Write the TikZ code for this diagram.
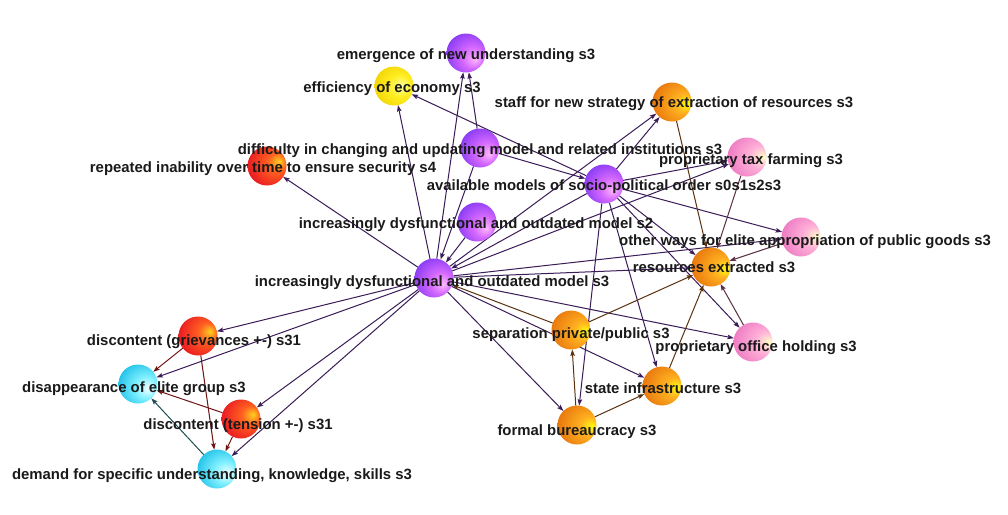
\documentclass[tikz,border=0pt]{standalone}
\usepackage{fontspec}
\setmainfont{Liberation Sans}
\usetikzlibrary{arrows.meta}
\definecolor{labeltxt}{HTML}{1A1A1A}
\definecolor{epurple}{HTML}{3A1C58}
\definecolor{ebrown}{HTML}{5A3210}
\definecolor{ered}{HTML}{6E1414}
\definecolor{emauve}{HTML}{5A2E46}
\definecolor{eteal}{HTML}{1E5050}
% purple
\definecolor{phl}{HTML}{FFB8FF}\definecolor{pmid}{HTML}{D468FF}\definecolor{pbase}{HTML}{8A3CF4}\definecolor{pdark}{HTML}{4E1CC0}
% yellow
\definecolor{yhl}{HTML}{FFFFA0}\definecolor{ymid}{HTML}{FFEE22}\definecolor{ybase}{HTML}{F0D000}\definecolor{ydark}{HTML}{B08C00}
% orange
\definecolor{ohl}{HTML}{FFFF10}\definecolor{omid}{HTML}{FFB020}\definecolor{obase}{HTML}{EA7C10}\definecolor{odark}{HTML}{A05006}
% red
\definecolor{rhl}{HTML}{FFD020}\definecolor{rmid}{HTML}{FF6020}\definecolor{rbase}{HTML}{EC2222}\definecolor{rdark}{HTML}{B80C34}
% pink
\definecolor{khl}{HTML}{FFFFC8}\definecolor{kmid}{HTML}{FFB0D8}\definecolor{kbase}{HTML}{EE7CC4}\definecolor{kdark}{HTML}{B858B0}
% cyan
\definecolor{chl}{HTML}{F4FFFF}\definecolor{cmid}{HTML}{80F0FF}\definecolor{cbase}{HTML}{26C4EA}\definecolor{cdark}{HTML}{1686B0}
\pgfdeclareradialshading{purpleball}{\pgfpoint{12bp}{-8bp}}{color(0bp)=(phl); color(14bp)=(pmid); color(32bp)=(pbase); color(56bp)=(pdark)}
\pgfdeclareradialshading{yellowball}{\pgfpoint{10bp}{0bp}}{color(0bp)=(yhl); color(14bp)=(ymid); color(34bp)=(ybase); color(58bp)=(ydark)}
\pgfdeclareradialshading{orangeball}{\pgfpoint{20bp}{-2bp}}{color(0bp)=(ohl); color(12bp)=(omid); color(32bp)=(obase); color(58bp)=(odark)}
\pgfdeclareradialshading{redball}{\pgfpoint{16bp}{6bp}}{color(0bp)=(rhl); color(12bp)=(rmid); color(30bp)=(rbase); color(58bp)=(rdark)}
\pgfdeclareradialshading{pinkball}{\pgfpoint{22bp}{0bp}}{color(0bp)=(khl); color(14bp)=(kmid); color(34bp)=(kbase); color(58bp)=(kdark)}
\pgfdeclareradialshading{cyanball}{\pgfpoint{14bp}{-6bp}}{color(0bp)=(chl); color(14bp)=(cmid); color(32bp)=(cbase); color(58bp)=(cdark)}
\pgfdeclarelayer{bglayer}
\pgfdeclarelayer{edgelayer}
\pgfsetlayers{bglayer,edgelayer,main}
\begin{document}
\begin{tikzpicture}[x=1pt,y=-1pt,
  ball/.style={circle,minimum size=39pt,inner sep=0pt,outer sep=0pt},
  pb/.style={ball,shading=purpleball},
  yb/.style={ball,shading=yellowball},
  ob/.style={ball,shading=orangeball},
  rb/.style={ball,shading=redball},
  kb/.style={ball,shading=pinkball},
  cb/.style={ball,shading=cyanball},
  lbl/.style={font=\bfseries\fontsize{14.9}{16}\selectfont,text=labeltxt,inner sep=0pt,anchor=mid},
  tip/.style={-{Stealth[length=6.5pt,width=4.6pt,inset=1.2pt]}},
  pe/.style={draw=epurple,line width=1pt,tip},
  be/.style={draw=ebrown,line width=1pt,tip},
  re/.style={draw=ered,line width=1pt,tip},
  me/.style={draw=emauve,line width=1pt,tip},
  te/.style={draw=eteal,line width=1pt,tip}]
\useasboundingbox (0,0) rectangle (1008,514);
\begin{pgfonlayer}{bglayer}
\fill[white] (0,0) rectangle (1008,514);
\end{pgfonlayer}
% balls
\node[pb] (n1) at (466,53) {};
\node[yb] (n2) at (394,86) {};
\node[ob] (n3) at (672,102) {};
\node[pb] (n4) at (480,148) {};
\node[rb] (n5) at (267,166) {};
\node[kb] (n6) at (747,157) {};
\node[pb] (n7) at (604,184) {};
\node[pb] (n8) at (477,222) {};
\node[kb] (n9) at (801,237) {};
\node[ob] (n10) at (711,267) {};
\node[pb] (n11) at (434,278) {};
\node[ob] (n12) at (571,330) {};
\node[kb] (n13) at (753,342) {};
\node[rb] (n14) at (198,336) {};
\node[cb] (n15) at (138,384) {};
\node[ob] (n16) at (662,386) {};
\node[rb] (n17) at (241,419) {};
\node[ob] (n18) at (577,425) {};
\node[cb] (n19) at (217,469) {};
% edges
\begin{pgfonlayer}{edgelayer}
\draw[pe] (n11) -- (n5);
\draw[pe] (n11) -- (n2);
\draw[pe] (n11) -- (n1);
\draw[pe] (n11) -- (n3);
\draw[pe] (n11) -- (n6);
\draw[pe] (n11) -- (n9);
\draw[pe] (n11) -- (n10);
\draw[pe] (n11) -- (n13);
\draw[pe] (n11) -- (n16);
\draw[pe] (n11) -- (n18);
\draw[pe] (n11) -- (n14);
\draw[pe] (n11) -- (n15);
\draw[pe] (n11) -- (n17);
\draw[pe] (n11) -- (n19);
\draw[pe] (n4) -- (n1);
\draw[pe] (n4) -- (n11);
\draw[pe] (n4) -- (n7);
\draw[pe] (n8) -- (n11);
\draw[pe] (n7) -- (n11);
\draw[pe] (n7) -- (n2);
\draw[pe] (n7) -- (n3);
\draw[pe] (n7) -- (n6);
\draw[pe] (n7) -- (n9);
\draw[pe] (n7) -- (n10);
\draw[pe] (n7) -- (n13);
\draw[pe] (n7) -- (n16);
\draw[pe] (n7) -- (n18);
\draw[be] (n12) -- (n11);
\draw[be] (n12) -- (n10);
\draw[be] (n18) -- (n12);
\draw[be] (n18) -- (n16);
\draw[be] (n16) -- (n10);
\draw[be] (n3) -- (n10);
\draw[re] (n14) -- (n15);
\draw[re] (n14) -- (n19);
\draw[re] (n17) -- (n15);
\draw[re] (n17) -- (n19);
\draw[me] (n6) -- (n10);
\draw[me] (n9) -- (n10);
\draw[me] (n13) -- (n10);
\draw[te] (n19) -- (n15);
\end{pgfonlayer}
% labels
\node[lbl] (t1) at (466,56.5) {emergence of new understanding s3};
\node[lbl] (t2) at (392,89.5) {efficiency of economy s3};
\node[lbl] (t3) at (674,104.5) {staff for new strategy of extraction of resources s3};
\node[lbl] (t4) at (480,151.5) {difficulty in changing and updating model and related institutions s3};
\node[lbl] (t5) at (263,169.5) {repeated inability over time to ensure security s4};
\node[lbl] (t6) at (751,161.5) {proprietary tax farming s3};
\node[lbl] (t7) at (604,187.5) {available models of socio-political order s0s1s2s3};
\node[lbl] (t8) at (476,225.5) {increasingly dysfunctional and outdated model s2};
\node[lbl] (t9) at (805,242.5) {other ways for elite appropriation of public goods s3};
\node[lbl] (t10) at (714,269.5) {resources extracted s3};
\node[lbl] (t11) at (432,283.5) {increasingly dysfunctional and outdated model s3};
\node[lbl] (t12) at (571,335.5) {separation private/public s3};
\node[lbl] (t13) at (756,348.5) {proprietary office holding s3};
\node[lbl] (t14) at (194,342.5) {discontent (grievances +-) s31};
\node[lbl] (t15) at (134,389.5) {disappearance of elite group s3};
\node[lbl] (t16) at (663,390.5) {state infrastructure s3};
\node[lbl] (t17) at (238,426.5) {discontent (tension +-) s31};
\node[lbl] (t18) at (577,432.5) {formal bureaucracy s3};
\node[lbl] (t19) at (212,476.5) {demand for specific understanding, knowledge, skills s3};
\end{tikzpicture}
\end{document}
